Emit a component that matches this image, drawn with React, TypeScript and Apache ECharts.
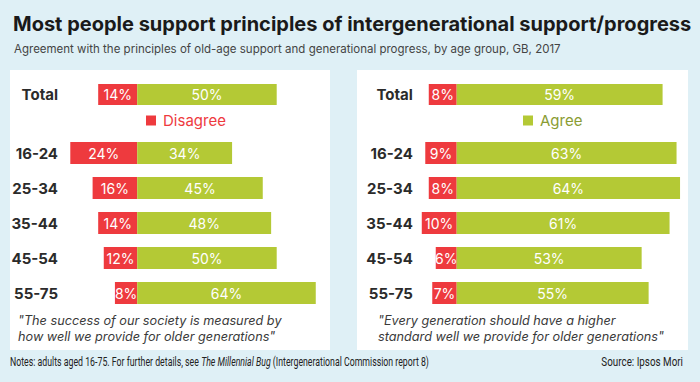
import React, { useEffect, useRef } from "react";
import * as echarts from "echarts";

const ageGroups = ["16-24", "25-34", "35-44", "45-54", "55-75"];
const totalLabel = ["Total"];

const leftDisagreeTotal = [14];
const leftAgreeTotal = [50];
const leftDisagree = [24, 16, 14, 12, 8];
const leftAgree = [34, 45, 48, 50, 64];

const rightDisagreeTotal = [8];
const rightAgreeTotal = [59];
const rightDisagree = [9, 8, 10, 6, 7];
const rightAgree = [63, 64, 61, 53, 55];

const RED = "#ee3a3e";
const GREEN = "#b4c935";
const FONT = "Inter, 'Noto Sans', sans-serif";
const FOOT = "Roboto, sans-serif";

export default function App() {
  const ref = useRef<HTMLDivElement>(null);
  useEffect(() => {
    const chart = echarts.init(ref.current!, null, { renderer: "svg" });

    const lbl = {
      show: true,
      position: "inside",
      color: "#fff",
      fontSize: 14,
      fontFamily: FONT,
      formatter: (p: any) => Math.abs(p.value) + "%",
    };

    const grids = [
      { left: 67.5, width: 265, top: 77, height: 35 },
      { left: 67.5, width: 265, top: 135.5, height: 175 },
      { left: 414.8, width: 279.2, top: 77, height: 35 },
      { left: 414.8, width: 279.2, top: 135.5, height: 175 },
    ];
    const xMins = [-25, -25, -12, -12];
    const xMaxs = [70, 70, 68, 68];
    const margins = [9.5, 9.5, 2, 2];

    const mkSeries = (name: string, data: number[], idx: number, color: string, bw: number) => ({
      name,
      type: "bar",
      stack: "s" + idx,
      xAxisIndex: idx,
      yAxisIndex: idx,
      data,
      barWidth: bw,
      itemStyle: { color },
      label: lbl,
    });

    chart.setOption({
      animation: false,
      backgroundColor: "#dff0f6",
      textStyle: { fontFamily: FONT },
      title: [
        {
          text: "Most people support principles of intergenerational support/progress",
          left: 8,
          top: 9,
          textStyle: { fontSize: 20, fontWeight: "bold", color: "#1a1a1a", fontFamily: FONT },
        },
        {
          text: "Agreement with the principles of old-age support and generational progress, by age group, GB, 2017",
          left: 9,
          top: 38,
          textStyle: { fontSize: 11.5, fontWeight: "normal", color: "#444", fontFamily: FONT },
        },
      ],
      legend: [
        {
          data: ["Disagree"],
          left: 146,
          top: 113,
          icon: "rect",
          itemWidth: 10,
          itemHeight: 10,
          selectedMode: false,
          padding: 0,
          textStyle: { color: RED, fontSize: 15, fontFamily: FONT, padding: [0, 0, 0, 2] },
        },
        {
          data: ["Agree"],
          left: 523,
          top: 113,
          icon: "rect",
          itemWidth: 10,
          itemHeight: 10,
          selectedMode: false,
          padding: 0,
          textStyle: { color: "#8a9c33", fontSize: 15, fontFamily: FONT, padding: [0, 0, 0, 2] },
        },
      ],
      grid: grids,
      xAxis: grids.map((_, i) => ({
        type: "value",
        gridIndex: i,
        min: xMins[i],
        max: xMaxs[i],
        show: false,
      })),
      yAxis: grids.map((_, i) => ({
        type: "category",
        gridIndex: i,
        inverse: true,
        data: i % 2 === 0 ? totalLabel : ageGroups,
        axisLine: { show: false },
        axisTick: { show: false },
        axisLabel: {
          margin: margins[i],
          fontSize: 15,
          fontWeight: "bold",
          color: "#2b2b2b",
          fontFamily: FONT,
        },
      })),
      series: [
        mkSeries("Disagree", leftDisagreeTotal.map((v) => -v), 0, RED, 21),
        mkSeries("Agree", leftAgreeTotal, 0, GREEN, 21),
        mkSeries("Disagree", leftDisagree.map((v) => -v), 1, RED, 22),
        mkSeries("Agree", leftAgree, 1, GREEN, 22),
        mkSeries("Disagree", rightDisagreeTotal.map((v) => -v), 2, RED, 21),
        mkSeries("Agree", rightAgreeTotal, 2, GREEN, 21),
        mkSeries("Disagree", rightDisagree.map((v) => -v), 3, RED, 22),
        mkSeries("Agree", rightAgree, 3, GREEN, 22),
      ],
      graphic: [
        {
          type: "rect",
          z: -10,
          silent: true,
          shape: { x: 10, y: 70, width: 320, height: 280 },
          style: { fill: "#fff" },
        },
        {
          type: "rect",
          z: -10,
          silent: true,
          shape: { x: 357, y: 70, width: 331, height: 280 },
          style: { fill: "#fff" },
        },
        {
          type: "text",
          x: 18,
          y: 312,
          style: {
            text: "\"The success of our society is measured by\nhow well we provide for older generations\"",
            fontSize: 12.7,
            fontStyle: "italic",
            fill: "#3a3a3a",
            fontFamily: FONT,
            lineHeight: 16,
          },
        },
        {
          type: "text",
          x: 378,
          y: 312,
          style: {
            text: "\"Every generation should have a higher\nstandard well we provide for older generations\"",
            fontSize: 12.7,
            fontStyle: "italic",
            fill: "#3a3a3a",
            fontFamily: FONT,
            lineHeight: 16,
          },
        },
        {
          type: "text",
          x: 10,
          y: 356,
          scaleX: 0.73,
          style: {
            rich: {
              n: { fontSize: 12, fill: "#222", fontFamily: FOOT },
              i: { fontSize: 12, fill: "#222", fontStyle: "italic", fontFamily: FOOT },
            },
            text: "{n|Notes: adults aged 16-75. For further details, see }{i|The Millennial Bug}{n| (Intergenerational Commission report 8)}",
          },
        },
        {
          type: "text",
          x: 683,
          y: 356,
          scaleX: 0.82,
          style: {
            text: "Source: Ipsos Mori",
            align: "right",
            fontSize: 12,
            fill: "#222",
            fontFamily: FOOT,
          },
        },
      ],
    });
    return () => chart.dispose();
  }, []);
  return (
    <div
      ref={ref}
      style={{ position: "fixed", left: 0, top: 0, width: 700, height: 382 }}
    />
  );
}
